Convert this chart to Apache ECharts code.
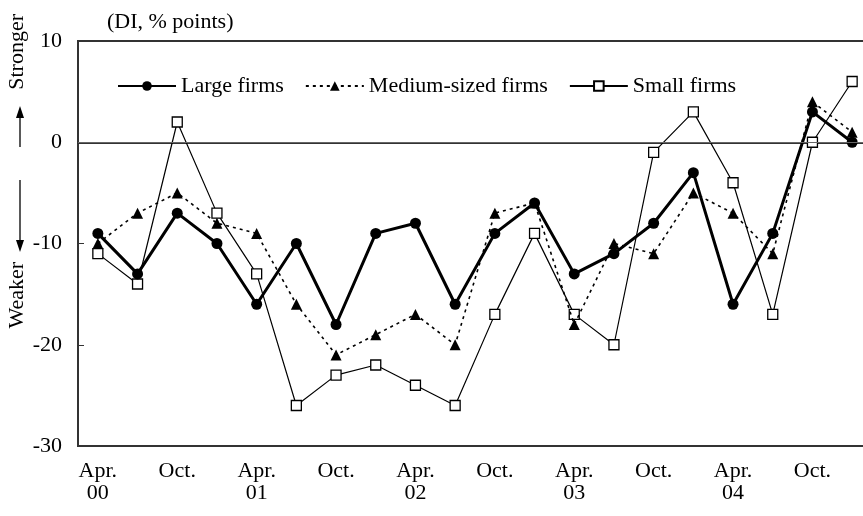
<!DOCTYPE html>
<html>
<head>
<meta charset="UTF-8">
<title>DI by firm size</title>
<script src="https://cdn.jsdelivr.net/npm/echarts@6/dist/echarts.min.js"></script>
<style>
  html, body { margin: 0; padding: 0; background: #fff; }
  #main { width: 863px; height: 516px; }
</style>
</head>
<body>
<div id="main"></div>
<script type="text/javascript">
  // quarterly, Apr.00 .. Jan.05 (only Apr/Oct are labelled)
  var quarters = ['Apr.\n00', 'Jul.', 'Oct.', 'Jan.',
                  'Apr.\n01', 'Jul.', 'Oct.', 'Jan.',
                  'Apr.\n02', 'Jul.', 'Oct.', 'Jan.',
                  'Apr.\n03', 'Jul.', 'Oct.', 'Jan.',
                  'Apr.\n04', 'Jul.', 'Oct.', 'Jan.'];

  var largeFirms  = [-9, -13, -7, -10, -16, -10, -18, -9, -8, -16, -9, -6, -13, -11, -8, -3, -16, -9, 3, 0];
  var mediumFirms = [-10, -7, -5, -8, -9, -16, -21, -19, -17, -20, -7, -6, -18, -10, -11, -5, -7, -11, 4, 1];
  var smallFirms  = [-11, -14, 2, -7, -13, -26, -23, -22, -24, -26, -17, -9, -17, -20, -1, 3, -4, -17, 0, 6];

  var yTicks = [-30, -20, -10, 0, 10];

  var serif = 'Liberation Serif, Times New Roman, serif';
  var myChart = echarts.init(document.getElementById('main'));

  var option = {
    animation: false,
    backgroundColor: '#fff',
    title: {
      text: '(DI, % points)',
      left: 102,
      top: 6,
      textStyle: { fontFamily: serif, fontSize: 22, fontWeight: 'normal', color: '#000' }
    },
    legend: {
      left: 112,
      top: 70,
      itemWidth: 58,
      itemHeight: 12,
      itemGap: 21,
      textStyle: { fontFamily: serif, fontSize: 22, color: '#000' },
      data: ['Large firms', 'Medium-sized firms', 'Small firms']
    },
    grid: {
      left: 78,
      width: 794,   // runs past the right edge, as in the original
      top: 41,
      bottom: 70,
      outerBoundsMode: 'none',
      show: true,
      borderWidth: 2,
      borderColor: '#333'
    },
    xAxis: {
      type: 'category',
      data: quarters,
      boundaryGap: true,
      axisLine: { lineStyle: { color: '#333', width: 2 } },
      axisTick: { show: false },
      axisLabel: {
        interval: 1,
        margin: 14,
        fontFamily: serif,
        fontSize: 22,
        lineHeight: 22,
        color: '#000'
      },
      splitLine: { show: false }
    },
    yAxis: {
      type: 'value',
      min: yTicks[0],
      max: yTicks[yTicks.length - 1],
      interval: 10,
      axisLine: { show: true, lineStyle: { color: '#333', width: 2 } },
      axisTick: { show: true, inside: true, length: 6, lineStyle: { color: '#333', width: 1 } },
      axisLabel: { margin: 16, fontFamily: serif, fontSize: 22, color: '#000' },
      splitLine: { show: false }
    },
    graphic: [
      {
        type: 'text', left: 6, top: 14, rotation: Math.PI / 2,
        style: { text: 'Stronger', fontFamily: serif, fontSize: 22, fill: '#000' }
      },
      { type: 'line', shape: { x1: 20, y1: 147, x2: 20, y2: 116 }, style: { stroke: '#000', lineWidth: 1.3 } },
      { type: 'polygon', shape: { points: [[20, 106], [16, 118], [24, 118]] }, style: { fill: '#000' } },
      { type: 'line', shape: { x1: 20, y1: 180, x2: 20, y2: 242 }, style: { stroke: '#000', lineWidth: 1.3 } },
      { type: 'polygon', shape: { points: [[20, 252], [16, 240], [24, 240]] }, style: { fill: '#000' } },
      {
        type: 'text', left: 6, top: 262, rotation: Math.PI / 2,
        style: { text: 'Weaker', fontFamily: serif, fontSize: 22, fill: '#000' }
      }
    ],
    series: [
      {
        name: 'Large firms',
        type: 'line',
        z: 4,
        data: largeFirms,
        symbol: 'circle',
        symbolSize: 11,
        itemStyle: { color: '#000' },
        lineStyle: { color: '#000', width: 3 }
      },
      {
        name: 'Medium-sized firms',
        type: 'line',
        z: 3,
        data: mediumFirms,
        symbol: 'triangle',
        symbolSize: 11,
        itemStyle: { color: '#000' },
        lineStyle: { color: '#000', width: 1.6, type: [3, 4] }
      },
      {
        name: 'Small firms',
        type: 'line',
        z: 2,
        data: smallFirms,
        symbol: 'rect',
        symbolSize: 10,
        itemStyle: { color: '#fff', borderColor: '#000', borderWidth: 1.3 },
        lineStyle: { color: '#000', width: 1.2 },
        markLine: {
          silent: true,
          symbol: 'none',
          label: { show: false },
          lineStyle: { color: '#666', width: 1.2, type: 'solid' },
          data: [{ yAxis: 0 }]
        }
      }
    ]
  };

  myChart.setOption(option);
</script>
</body>
</html>
